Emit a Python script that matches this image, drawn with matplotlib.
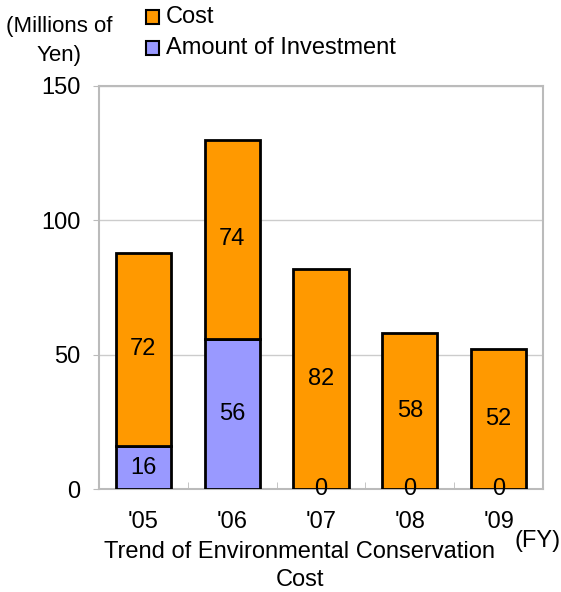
import numpy as np
import matplotlib
matplotlib.use("Agg")
import matplotlib.pyplot as plt
from matplotlib.patches import Rectangle

plt.rcParams['font.family'] = ['Liberation Sans', 'DejaVu Sans']

#%% Data
years = ["'05", "'06", "'07", "'08", "'09"]
investment = [16, 56, 0, 0, 0]
cost = [72, 74, 82, 58, 52]

c_cost = '#FF9900'
c_inv = '#9999FF'
fs = 17

#%% Plot
fig = plt.figure(figsize=(5.61, 5.92), dpi=100)
ax = fig.add_axes([99/561, 103/592, 444/561, 403/592])

x = np.arange(len(years))
w = 0.62
ax.bar(x, investment, w, color=c_inv, edgecolor='black', linewidth=2, zorder=3)
ax.bar(x, cost, w, bottom=investment, color=c_cost, edgecolor='black',
       linewidth=2, zorder=3)

for i in range(len(years)):
    ax.text(x[i], investment[i] / 2, str(investment[i]), ha='center',
            va='center', fontsize=fs, zorder=5)
    ax.text(x[i], investment[i] + cost[i] / 2, str(cost[i]), ha='center',
            va='center', fontsize=fs, zorder=5)

ax.set_xlim(-0.5, len(years) - 0.5)
ax.set_ylim(0, 150)
ax.set_yticks([0, 50, 100, 150])
ax.set_xticks(x)
ax.set_xticklabels(years)
ax.set_xticks(np.arange(0.5, len(years) - 1, 1), minor=True)
ax.tick_params(axis='x', which='major', length=0, pad=16, labelsize=fs)
ax.tick_params(axis='x', which='minor', length=5, direction='in', color='#bbbbbb')
ax.tick_params(axis='y', length=4, color='#bbbbbb', pad=9.5, labelsize=fs)
ax.grid(axis='y', color='#cccccc', linewidth=1, zorder=0)
for s in ax.spines.values():
    s.set_color('#bbbbbb')
    s.set_linewidth(1.5)

# labels
fig.text(59/561, 1 - 41/592, '(Millions of\nYen)', ha='center', va='center',
         fontsize=16, linespacing=1.45)
fig.text(300/561, 1 - 566/592, 'Trend of Environmental Conservation\nCost',
         ha='center', va='center', fontsize=fs, linespacing=1.3)
fig.text(538/561, 1 - 541/592, '(FY)', ha='center', va='center', fontsize=fs)

# legend
for yy, col, lab in [(17, c_cost, 'Cost'), (48, c_inv, 'Amount of Investment')]:
    fig.patches.append(Rectangle((146/561, 1 - (yy + 7)/592), 13/561, 14/592,
                                 facecolor=col, edgecolor='black', linewidth=1.5,
                                 transform=fig.transFigure, figure=fig))
    fig.text(166/561, 1 - yy/592, lab, ha='left', va='center', fontsize=fs)

fig.savefig('out.png', dpi=100)
